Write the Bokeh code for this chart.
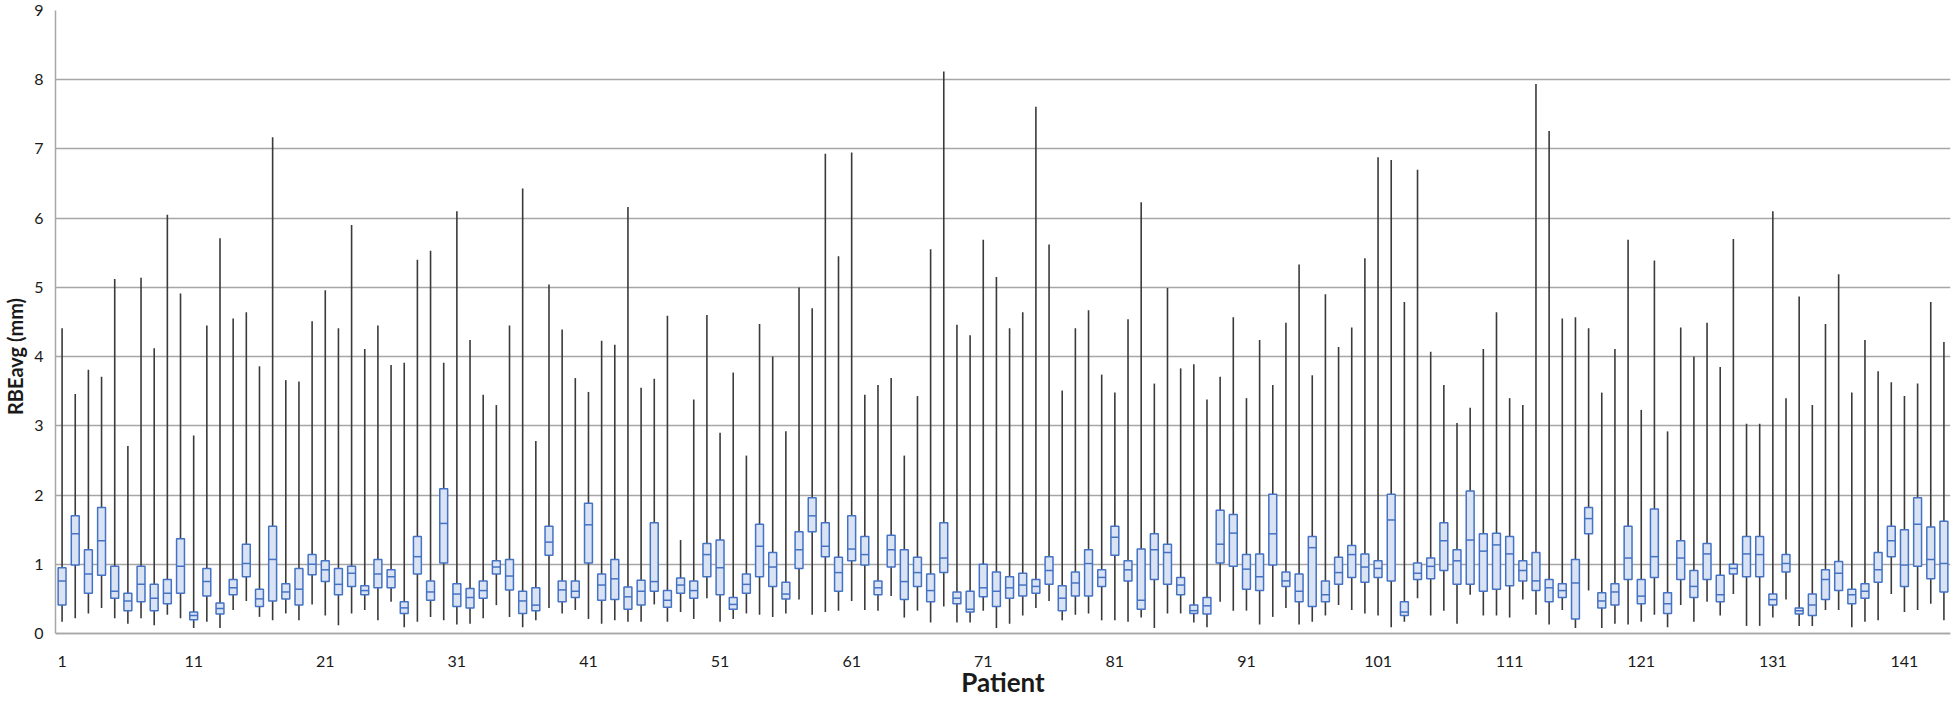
from bokeh.plotting import figure
from bokeh.models import ColumnDataSource, FixedTicker, Range1d
from bokeh.transform import dodge
from bokeh.embed import file_html
from bokeh.resources import INLINE

patients = list(range(1, 145))

w_low = [0.17,0.22,0.29,0.37,0.22,0.14,0.22,0.12,0.27,0.22,0.08,0.17,0.08,0.34,0.47,0.24,0.19,0.29,0.19,0.42,
         0.26,0.12,0.29,0.34,0.19,0.46,0.09,0.17,0.24,0.19,0.13,0.14,0.22,0.41,0.24,0.09,0.19,0.37,0.29,0.34,
         0.21,0.14,0.19,0.17,0.17,0.42,0.17,0.31,0.21,0.51,0.17,0.21,0.29,0.27,0.24,0.29,0.49,0.27,0.31,0.33,
         0.47,0.34,0.33,0.54,0.23,0.33,0.16,0.39,0.16,0.16,0.33,0.08,0.14,0.26,0.37,0.47,0.19,0.27,0.29,0.19,
         0.19,0.17,0.23,0.08,0.29,0.29,0.16,0.09,0.46,0.33,0.33,0.13,0.24,0.37,0.13,0.17,0.26,0.41,0.34,0.29,
         0.26,0.09,0.17,0.51,0.26,0.33,0.14,0.56,0.26,0.26,0.23,0.49,0.27,0.13,0.34,0.08,0.62,0.08,0.14,0.13,
         0.17,0.27,0.09,0.41,0.17,0.46,0.26,0.57,0.11,0.11,0.23,0.49,0.11,0.11,0.34,0.34,0.09,0.17,0.19,0.57,
         0.31,0.34,0.43,0.19]

q1 = [0.41,0.99,0.58,0.84,0.51,0.33,0.46,0.33,0.43,0.58,0.20,0.54,0.28,0.56,0.82,0.39,0.47,0.50,0.41,0.85,
      0.75,0.56,0.68,0.56,0.66,0.66,0.29,0.86,0.48,1.02,0.39,0.37,0.51,0.86,0.63,0.29,0.33,1.13,0.46,0.52,
      1.02,0.48,0.49,0.35,0.41,0.61,0.38,0.58,0.51,0.82,0.56,0.35,0.58,0.82,0.68,0.50,0.94,1.47,1.11,0.61,
      1.05,0.99,0.56,0.96,0.49,0.68,0.46,0.88,0.43,0.31,0.53,0.39,0.51,0.54,0.58,0.71,0.33,0.54,0.54,0.68,
      1.13,0.76,0.35,0.78,0.71,0.56,0.29,0.28,1.02,0.97,0.64,0.62,0.99,0.68,0.46,0.39,0.46,0.71,0.81,0.74,
      0.81,0.76,0.26,0.78,0.79,0.91,0.71,0.71,0.61,0.64,0.69,0.76,0.62,0.46,0.52,0.21,1.44,0.37,0.41,0.78,
      0.43,0.81,0.29,0.78,0.52,0.78,0.46,0.86,0.82,0.82,0.41,0.89,0.28,0.26,0.49,0.62,0.43,0.51,0.74,1.11,
      0.68,0.97,0.79,0.60]

median = [0.76,1.44,0.86,1.34,0.61,0.47,0.71,0.51,0.58,0.97,0.26,0.75,0.36,0.66,1.01,0.50,1.07,0.60,0.64,1.00,
          0.92,0.71,0.87,0.62,0.86,0.82,0.37,1.11,0.60,1.59,0.57,0.52,0.62,0.96,0.83,0.47,0.41,1.32,0.63,0.61,
          1.57,0.70,0.79,0.53,0.61,0.75,0.48,0.70,0.62,1.14,0.95,0.42,0.71,1.26,0.96,0.57,1.21,1.70,1.26,0.88,
          1.22,1.14,0.66,1.21,0.75,0.88,0.62,1.09,0.51,0.35,0.66,0.61,0.66,0.70,0.68,0.91,0.51,0.73,1.01,0.81,
          1.39,0.92,0.48,1.21,1.17,0.70,0.33,0.40,1.29,1.45,0.93,0.82,1.44,0.76,0.61,1.24,0.56,0.88,1.14,0.96,
          0.94,1.64,0.31,0.87,0.97,1.34,1.05,1.35,1.19,1.28,1.15,0.91,0.76,0.66,0.62,0.73,1.66,0.47,0.60,1.09,
          0.54,1.11,0.43,1.09,0.68,1.15,0.56,0.94,1.15,1.14,0.49,1.01,0.33,0.41,0.78,0.87,0.56,0.61,0.92,1.34,
          0.99,1.58,1.07,1.01]

q3 = [0.95,1.70,1.21,1.82,0.97,0.58,0.97,0.71,0.78,1.37,0.31,0.94,0.44,0.78,1.29,0.64,1.55,0.72,0.94,1.14,
      1.05,0.94,0.97,0.69,1.07,0.92,0.46,1.40,0.76,2.09,0.72,0.65,0.76,1.05,1.07,0.61,0.66,1.55,0.76,0.76,
      1.88,0.86,1.07,0.67,0.77,1.60,0.62,0.80,0.76,1.30,1.35,0.52,0.86,1.58,1.17,0.74,1.47,1.96,1.60,1.10,
      1.70,1.40,0.76,1.42,1.21,1.10,0.86,1.60,0.60,0.61,1.00,0.89,0.82,0.87,0.78,1.11,0.69,0.89,1.21,0.92,
      1.55,1.05,1.22,1.44,1.29,0.81,0.41,0.52,1.78,1.72,1.14,1.15,2.01,0.89,0.86,1.40,0.76,1.10,1.27,1.15,
      1.05,2.01,0.46,1.02,1.09,1.60,1.21,2.06,1.44,1.45,1.40,1.05,1.17,0.78,0.72,1.07,1.82,0.59,0.72,1.55,
      0.78,1.80,0.59,1.34,0.91,1.30,0.84,1.00,1.40,1.40,0.57,1.14,0.37,0.57,0.92,1.04,0.64,0.72,1.17,1.55,
      1.50,1.96,1.54,1.62]

w_high = [4.41,3.46,3.81,3.71,5.12,2.71,5.14,4.12,6.05,4.91,2.86,4.45,5.71,4.55,4.64,3.86,7.17,3.66,3.64,4.51,
          4.96,4.41,5.90,4.11,4.45,3.88,3.91,5.40,5.53,3.91,6.10,4.24,3.45,3.30,4.45,6.43,2.78,5.04,4.39,3.69,
          3.49,4.23,4.17,6.16,3.55,3.68,4.59,1.35,3.38,4.60,2.90,3.77,2.57,4.47,4.00,2.92,5.00,4.70,6.93,5.45,
          6.95,3.45,3.59,3.69,2.57,3.43,5.55,8.12,4.46,4.31,5.69,5.15,4.41,4.64,7.61,5.62,3.51,4.41,4.67,3.74,
          3.48,4.54,6.23,3.61,4.99,3.83,3.89,3.38,3.71,4.57,3.40,4.24,3.59,4.49,5.33,3.73,4.90,4.14,4.42,5.42,
          6.88,6.84,4.79,6.70,4.07,3.59,3.04,3.26,4.11,4.64,3.40,3.30,7.94,7.26,4.55,4.57,4.41,3.48,4.11,5.69,
          3.23,5.39,2.92,4.42,4.00,4.49,3.85,5.70,3.03,3.03,6.10,3.40,4.87,3.30,4.47,5.19,3.48,4.24,3.79,3.63,
          3.43,3.61,4.79,4.21]

y_ticks = list(range(0, 10))
x_ticks = list(range(1, 145, 10))
x_title = "Patient"
y_title = "RBEavg (mm)"

src = ColumnDataSource(dict(x=patients, lo=w_low, q1=q1, med=median, q3=q3, hi=w_high))

FONT = "Lato"
TXT = "#1a1a1a"

# layout: frame spans from page y 18 to the bottom; value 0 sits 69 px above the frame bottom
TOP_BORDER = 10
FIG_H = 702
px_per_unit = (641 - (8 + TOP_BORDER)) / 9.0
y_start = -(FIG_H + 8 - 641) / px_per_unit

p = figure(width=1952, height=FIG_H, output_backend="svg", toolbar_location=None,
           x_range=Range1d(0.5, 144.5), y_range=Range1d(y_start, 9),
           min_border_left=51, min_border_right=2, min_border_top=TOP_BORDER, min_border_bottom=0)

p.segment(x0="x", y0="lo", x1="x", y1="hi", source=src, line_color="#3a3a3a", line_width=1.6)
p.vbar(x="x", width=0.6, bottom="q1", top="q3", source=src,
       fill_color="#dae3f3", line_color="#4472c4", line_width=1.5)
p.segment(x0=dodge("x", -0.3, range=p.x_range), y0="med", x1=dodge("x", 0.3, range=p.x_range), y1="med",
          source=src, line_color="#4472c4", line_width=1.5)

p.outline_line_color = None
p.xgrid.grid_line_color = None
p.ygrid.grid_line_color = "#a6a6a6"
p.ygrid.grid_line_width = 1.5
p.yaxis.ticker = FixedTicker(ticks=y_ticks)
p.xaxis.ticker = FixedTicker(ticks=x_ticks)
p.yaxis.bounds = (0, 9)
p.xaxis.fixed_location = 0

for ax in (p.xaxis, p.yaxis):
    ax.axis_line_color = "#a6a6a6"
    ax.axis_line_width = 1.5
    ax.major_tick_line_color = None
    ax.minor_tick_line_color = None
    ax.major_tick_out = 0
    ax.major_tick_in = 0
    ax.minor_tick_out = 0
    ax.minor_tick_in = 0
    ax.major_label_text_font = FONT
    ax.major_label_text_font_size = "16px"
    ax.major_label_text_color = TXT
    ax.axis_label_text_font = FONT
    ax.axis_label_text_font_style = "bold"
    ax.axis_label_text_color = TXT

p.xaxis.axis_label = x_title
p.xaxis.axis_label_text_font_size = "26px"
p.xaxis.major_label_standoff = 22
p.xaxis.axis_label_standoff = -4

p.yaxis.axis_label = y_title
p.yaxis.axis_label_text_font_size = "20px"
p.yaxis.major_label_standoff = 12
p.yaxis.axis_label_standoff = 4

open("out.html", "w").write(file_html(p, INLINE))
